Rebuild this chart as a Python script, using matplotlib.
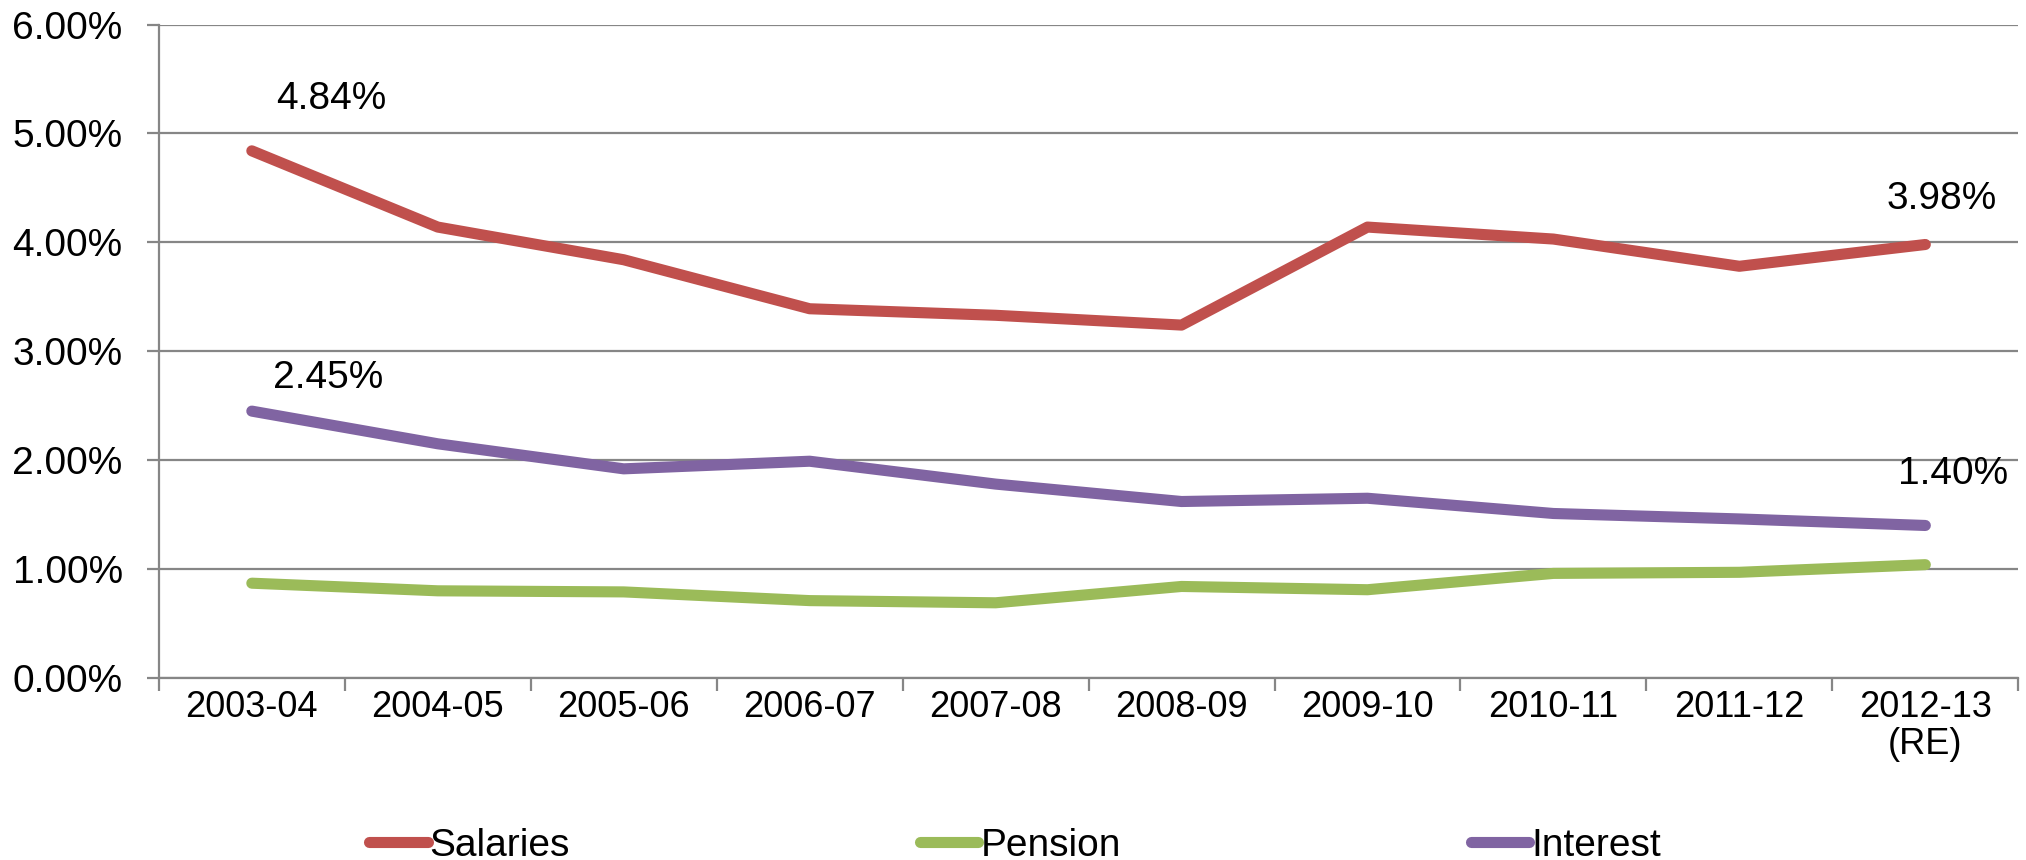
#Share of expenditure: salaries, pension and interest by year
import matplotlib.pyplot as plt
from matplotlib.ticker import FuncFormatter, MultipleLocator

plt.rcParams['font.family'] = ['Liberation Sans', 'DejaVu Sans']

#Years on the horizontal axis
years = ['2003-04', '2004-05', '2005-06', '2006-07', '2007-08',
         '2008-09', '2009-10', '2010-11', '2011-12', '2012-13\n(RE)']

#Values in percent
salaries = [4.84, 4.14, 3.84, 3.39, 3.33, 3.24, 4.14, 4.03, 3.78, 3.98]
pension = [0.87, 0.80, 0.79, 0.71, 0.69, 0.84, 0.81, 0.96, 0.97, 1.04]
interest = [2.45, 2.15, 1.92, 1.99, 1.78, 1.62, 1.65, 1.51, 1.46, 1.40]

seriesNames = ['Salaries', 'Pension', 'Interest']
seriesColors = ['#C0504D', '#9BBB59', '#8064A2']

gridColor = '#868686'
fontSize = 28

fig = plt.figure(figsize=(20.26, 8.6), dpi=100)
ax = fig.add_axes([0.0784, 0.2117, 0.9178, 0.7598])

x = list(range(len(years)))
for values, name, color in zip([salaries, pension, interest], seriesNames, seriesColors):
    ax.plot(x, values, color=color, linewidth=8, solid_capstyle='round',
            solid_joinstyle='round', label=name, zorder=3)

#Labels on the first and last points of salaries and interest
def label(i, values, dx, dy):
    ax.annotate('%.2f%%' % values[i], (x[i], values[i]), xytext=(dx, dy),
                textcoords='offset points', ha='center', va='center',
                fontsize=fontSize, zorder=4)

label(0, salaries, 57, 37)
label(-1, salaries, 12, 33)
label(0, interest, 55, 24)
label(-1, interest, 20, 37)

#Axes, grid and ticks
ax.set_xlim(-0.5, len(years) - 0.5)
ax.set_ylim(0, 6)
ax.yaxis.set_major_locator(MultipleLocator(1))
ax.yaxis.set_major_formatter(FuncFormatter(lambda v, p: '%.2f%%' % v))
ax.grid(axis='y', color=gridColor, linewidth=1.6, zorder=1)
ax.set_axisbelow(True)

ax.set_xticks(x)
ax.set_xticklabels(years, linespacing=1.05)
ax.set_xticks([i - 0.5 for i in range(len(years) + 1)], minor=True)
ax.tick_params(axis='x', which='major', length=0, pad=9, labelsize=26)
ax.tick_params(axis='x', which='minor', length=9, width=1.6, color=gridColor)
ax.tick_params(axis='y', length=9, width=1.6, color=gridColor, pad=17,
               labelsize=fontSize)

for side in ['top', 'right']:
    ax.spines[side].set_visible(False)
for side in ['left', 'bottom']:
    ax.spines[side].set_color(gridColor)
    ax.spines[side].set_linewidth(1.6)

#Legend along the bottom
fig.legend(loc='lower center', bbox_to_anchor=(0.501, -0.045), ncol=3,
           frameon=False, fontsize=fontSize, handlelength=1.5,
           handletextpad=0.05, columnspacing=9.0)

fig.savefig('out.png', dpi=100)
